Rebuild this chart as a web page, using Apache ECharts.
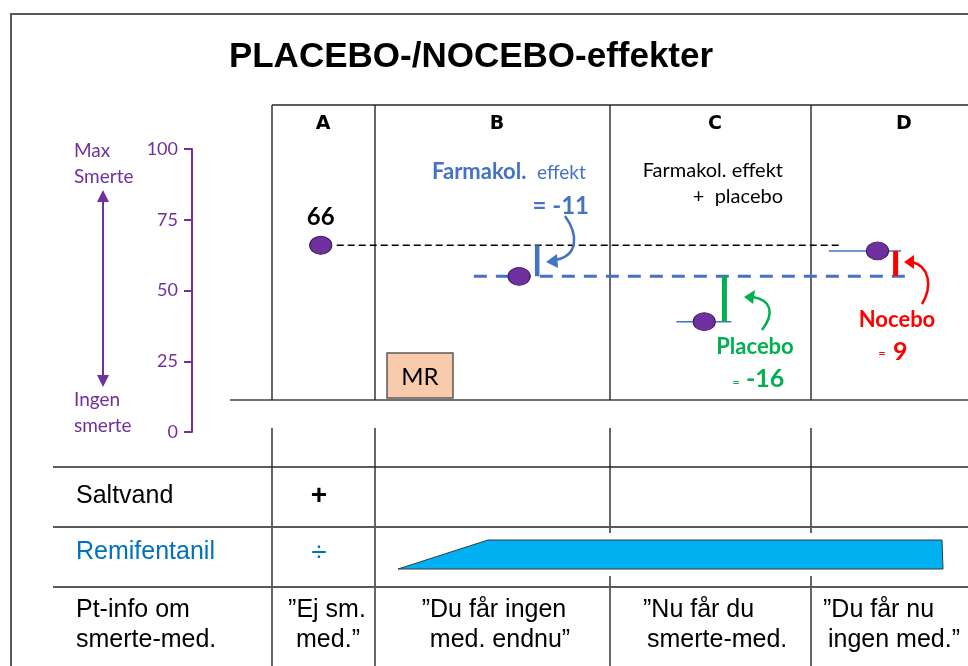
<!DOCTYPE html>
<html>
<head>
<meta charset="utf-8">
<script src="https://cdn.jsdelivr.net/npm/echarts@6/dist/echarts.min.js"></script>
<style>
  html, body { margin: 0; padding: 0; background: #fff; }
  #chart { width: 968px; height: 666px; }
</style>
</head>
<body>
<div id="chart"></div>
<script>
// ---- data ----
const stages = ['A', 'B', 'C', 'D'];
const painLevels = [66, 55, 39, 64];            // pain score per stage (0-100)
const effectNames = ['Farmakol.', 'Placebo', 'Nocebo'];
const effectValues = [-11, -16, 9];             // change in pain score
const axisTicks = [0, 25, 50, 75, 100];
const rowLabels = ['Saltvand', 'Remifentanil'];
const salineMarks = ['+', '', '', ''];
const remiMarks = ['÷', '', '', ''];
const infoLabel = ['Pt-info om', 'smerte-med.'];
const patientInfo = [
  ['”Ej sm.', 'med.”'],
  ['”Du får ingen', 'med. endnu”'],
  ['”Nu får du', 'smerte-med.'],
  ['”Du får nu', 'ingen med.”']
];

// ---- layout (x positions of marks in panel units 0-100) ----
const stageX = [7.0, 35.5, 62.1, 87.0];
const effectX = [38.1, 65.0, 89.6];
const effectRef = [0, 1, 1];                     // stage index each effect starts from

const purple = '#7030A0';
const blue = '#4472C4';
const green = '#00B050';
const red = '#FF0000';
const calibriLike = 'Lato, "Open Sans", sans-serif';
const arial = '"Liberation Sans", Arial, sans-serif';

const chart = echarts.init(document.getElementById('chart'), null, { renderer: 'canvas' });

function seg(x1, y1, x2, y2, color, width) {
  return { type: 'line', shape: { x1, y1, x2, y2 }, style: { stroke: color || '#333', lineWidth: width || 1.4 }, z: 1, silent: true };
}
function txt(x, y, text, font, fill, align, valign) {
  return { type: 'text', x, y, style: { text, font, fill: fill || '#000', textAlign: align || 'left', textVerticalAlign: valign || 'middle' }, z: 10, silent: true };
}

// ---- series built from the data ----
const effectSeries = effectValues.map((v, i) => {
  const start = painLevels[effectRef[i]];
  const color = [blue, green, red][i];
  return {
    type: 'line', name: effectNames[i], symbol: 'none', silent: true, z: 3,
    data: [[effectX[i], start], [effectX[i], start + v]],
    lineStyle: { color, width: i === 0 ? 4.5 : 5, cap: 'butt' }
  };
});

const series = [
  { type: 'line', symbol: 'none', silent: true, z: 2,
    data: [[9.3, painLevels[0]], [81.8, painLevels[0]]],
    lineStyle: { color: '#000', width: 1.5, type: [7, 4] } },
  { type: 'line', symbol: 'none', silent: true, z: 2,
    data: [[29.0, painLevels[1]], [91.7, painLevels[1]]],
    lineStyle: { color: blue, width: 3, type: [13, 9] } },
  { type: 'line', symbol: 'none', silent: true, z: 2,
    data: [[58.1, painLevels[2]], [66.0, painLevels[2]]],
    lineStyle: { color: blue, width: 1.5 } },
  { type: 'line', symbol: 'none', silent: true, z: 2,
    data: [[80.0, painLevels[3]], [90.4, painLevels[3]]],
    lineStyle: { color: blue, width: 1.5 } },
  ...effectSeries,
  { type: 'scatter', silent: true, z: 5,
    symbol: 'circle', symbolSize: [22, 18],
    itemStyle: { color: purple, opacity: 1, borderColor: '#3B1D5A', borderWidth: 1 },
    data: stageX.map((x, i) => ({
      value: [x, painLevels[i]],
      label: i === 0 ? { show: true, position: 'top', distance: 7, formatter: String(painLevels[i]),
        fontFamily: calibriLike, fontWeight: 'bold', fontSize: 24, color: '#000' } : { show: false }
    }))
  }
];

// ---- table, axis notes and annotations ----
const g = [];
// outer frame
g.push({ type: 'polyline', shape: { points: [[11, 666], [11, 14], [968, 14]] }, style: { stroke: '#595959', lineWidth: 2, fill: null }, z: 1, silent: true });
// title
g.push(txt(471, 57, 'PLACEBO-/NOCEBO-effekter', 'bold 35px ' + arial, '#000', 'center'));

// upper panel grid
const colX = [272, 375, 610, 811];
g.push(seg(272, 105, 968, 105, '#262626'));
g.push(seg(230, 400, 968, 400, '#404040'));
colX.forEach(x => {
  g.push(seg(x, 105, x, 400, '#262626'));
  if (x > 400) {
    g.push(seg(x, 428, x, 533, '#262626'));
    g.push(seg(x, 576, x, 666, '#262626'));
  } else {
    g.push(seg(x, 428, x, 666, '#262626'));
  }
});
[467, 527, 587].forEach(y => g.push(seg(53, y, 968, y, y === 467 ? '#262626' : '#595959', y === 467 ? 1.4 : 1.8)));

// column headers
const headX = [323, 497, 715, 904];
stages.forEach((s, i) => g.push(txt(headX[i], 124, s, 'bold 19px "DejaVu Sans", sans-serif', '#000', 'center')));

// pain scale notes and double arrow
g.push(txt(74, 151, 'Max', '19px ' + calibriLike, purple));
g.push(txt(74, 177, 'Smerte', '19px ' + calibriLike, purple));
g.push(txt(74, 400, 'Ingen', '19px ' + calibriLike, purple));
g.push(txt(74, 426, 'smerte', '19px ' + calibriLike, purple));
g.push(seg(103, 200, 103, 376, purple, 2));
g.push({ type: 'polygon', shape: { points: [[103, 190], [97, 202], [109, 202]] }, style: { fill: purple }, z: 2, silent: true });
g.push({ type: 'polygon', shape: { points: [[103, 387], [97, 375], [109, 375]] }, style: { fill: purple }, z: 2, silent: true });

// MR box
g.push({ type: 'rect', shape: { x: 387, y: 353, width: 66, height: 45 }, style: { fill: '#F8CBAD', stroke: '#595959', lineWidth: 1.5 }, z: 3, silent: true });
g.push(txt(420, 377, 'MR', '24px ' + calibriLike, '#000', 'center'));

// pharmacological effect note
g.push(txt(432, 172, effectNames[0], 'bold 22px ' + calibriLike, blue));
g.push(txt(537, 173, 'effekt', '19px ' + calibriLike, blue));
g.push(txt(589, 206, '= ' + effectValues[0], 'bold 24px ' + calibriLike, blue, 'right'));
// placebo note in C
g.push(txt(783, 171, 'Farmakol. effekt', '20px ' + calibriLike, '#000', 'right'));
g.push(txt(783, 197, '+  placebo', '20px ' + calibriLike, '#000', 'right'));
g.push(txt(755, 347, effectNames[1], 'bold 22px ' + calibriLike, green, 'center'));
g.push(txt(736, 383, '=', '13px ' + calibriLike, green, 'center'));
g.push(txt(746, 379, String(effectValues[1]), 'bold 25px ' + calibriLike, green));
// nocebo note in D
g.push(txt(897, 320, effectNames[2], 'bold 22px ' + calibriLike, red, 'center'));
g.push(txt(882, 354, '=', '13px ' + calibriLike, red, 'center'));
g.push(txt(893, 352, String(effectValues[2]), 'bold 25px ' + calibriLike, red));

// curved arrows
function curvedArrow(p0, c1, c2, p1, tip, b1, b2, color) {
  g.push({ type: 'bezierCurve', shape: { x1: p0[0], y1: p0[1], cpx1: c1[0], cpy1: c1[1], cpx2: c2[0], cpy2: c2[1], x2: p1[0], y2: p1[1] },
    style: { stroke: color, lineWidth: 2.5, fill: null }, z: 4, silent: true });
  g.push({ type: 'polygon', shape: { points: [tip, b1, b2] }, style: { fill: color }, z: 4, silent: true });
}
curvedArrow([565, 216], [578, 234], [579, 256], [555, 260], [546, 262], [557, 254], [558, 268], blue);
curvedArrow([762, 330], [775, 313], [771, 300], [753, 297], [744, 297], [755, 290], [753, 304], green);
curvedArrow([922, 304], [933, 286], [929, 266], [912, 262], [904, 262], [914, 255], [914, 269], red);

// lower table rows
g.push(txt(76, 496, rowLabels[0], '25px ' + arial, '#000'));
g.push(txt(76, 552, rowLabels[1], '25px ' + arial, '#0070C0'));
g.push(txt(319, 496, salineMarks[0], 'bold 28px ' + arial, '#000', 'center'));
g.push(txt(319, 553, remiMarks[0], '28px ' + arial, '#0070C0', 'center'));
g.push({ type: 'polygon', shape: { points: [[398, 569], [488, 540], [942, 540], [943, 569]] },
  style: { fill: '#00B0F0', stroke: '#2F3B45', lineWidth: 1 }, z: 3, silent: true });
g.push(txt(76, 610, infoLabel[0], '25px ' + arial, '#000'));
g.push(txt(76, 640, infoLabel[1], '25px ' + arial, '#000'));
const infoPos = [
  [[327, 'center'], [328, 'center']],
  [[494, 'center'], [500, 'center']],
  [[643, 'left'], [647, 'left']],
  [[823, 'left'], [828, 'left']]
];
patientInfo.forEach((lines, i) => {
  lines.forEach((l, j) => g.push(txt(infoPos[i][j][0], 610 + j * 30, l, '25px ' + arial, '#000', infoPos[i][j][1])));
});

chart.setOption({
  animation: false,
  backgroundColor: '#fff',
  grid: { left: 272, right: 0, top: 149, bottom: 234, containLabel: false },
  xAxis: { type: 'value', min: 0, max: 100, show: false },
  yAxis: {
    type: 'value', min: axisTicks[0], max: axisTicks[axisTicks.length - 1], interval: 25,
    position: 'left', offset: 80,
    axisLine: { show: true, onZero: false, lineStyle: { color: purple, width: 2 } },
    axisTick: { show: true, length: 8, lineStyle: { color: purple, width: 2 } },
    axisLabel: { color: purple, fontSize: 18, fontFamily: calibriLike, margin: 14 },
    splitLine: { show: false }
  },
  series,
  graphic: { elements: g }
});
</script>
</body>
</html>
